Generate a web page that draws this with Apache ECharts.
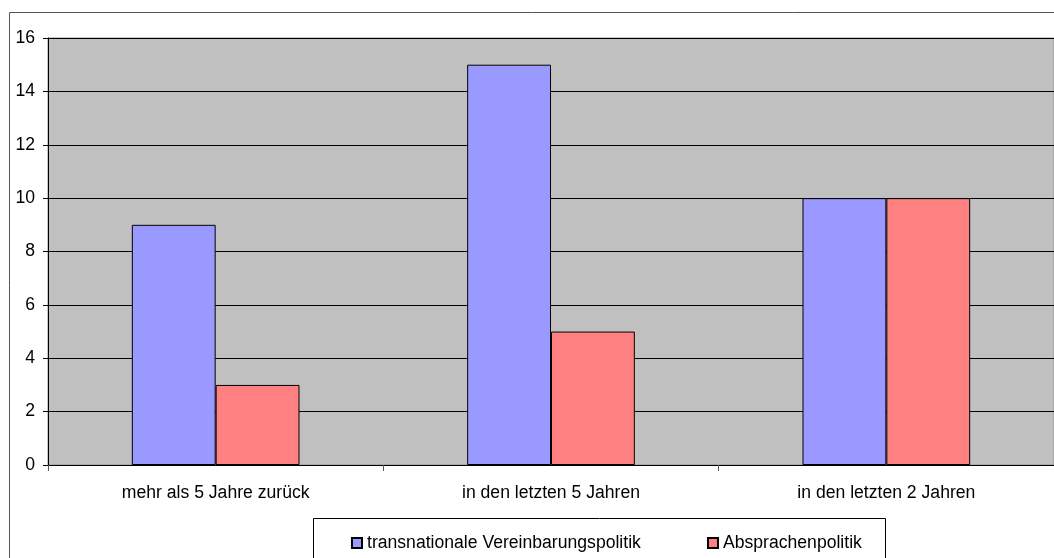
<!DOCTYPE html>
<html><head><meta charset="utf-8">
<script src="https://cdn.jsdelivr.net/npm/echarts@6/dist/echarts.min.js"></script>
<style>html,body{margin:0;padding:0;background:#fff}#c{width:1054px;height:558px}</style>
</head><body><div id="c"></div>
<script>
var categories = ['mehr als 5 Jahre zurück', 'in den letzten 5 Jahren', 'in den letzten 2 Jahren'];
var seriesNames = ['transnationale Vereinbarungspolitik', 'Absprachenpolitik'];
var transnational = [9, 15, 10];
var absprachen = [3, 5, 10];
var yTicks = [0, 2, 4, 6, 8, 10, 12, 14, 16];

var font = 'Liberation Sans, Arial, sans-serif';
var fs = 17.6;
var chart = echarts.init(document.getElementById('c'), null, {renderer: 'canvas'});
chart.setOption({
  animation: false,
  backgroundColor: '#fff',
  graphic: [
    {type: 'rect', shape: {x: 9.5, y: 12.5, width: 1060, height: 560}, style: {fill: 'none', stroke: '#555', lineWidth: 1}, z: -1},
    {type: 'rect', shape: {x: 313.5, y: 518.5, width: 572, height: 60}, style: {fill: '#fff', stroke: '#000', lineWidth: 1}, z: 0}
  ],
  legend: [
    {data: [seriesNames[0]], left: 346, top: 528, itemWidth: 10, itemHeight: 10, itemGap: 5,
     textStyle: {fontFamily: font, fontSize: fs, color: '#000', lineHeight: 20}, icon: 'rect', z: 5},
    {data: [seriesNames[1]], left: 702, top: 528, itemWidth: 10, itemHeight: 10, itemGap: 5,
     textStyle: {fontFamily: font, fontSize: fs, color: '#000', lineHeight: 20}, icon: 'rect', z: 5}
  ],
  grid: {left: 48, top: 38, width: 1013, height: 427, show: true, backgroundColor: '#c0c0c0', borderColor: '#909090', borderWidth: 1},
  xAxis: {
    type: 'category', data: categories,
    axisLine: {lineStyle: {color: '#000', width: 1}},
    axisTick: {show: true, length: 6, lineStyle: {color: '#555'}},
    axisLabel: {fontFamily: font, fontSize: fs, color: '#000', margin: 19}
  },
  yAxis: {
    type: 'value', min: 0, max: 16, interval: 2,
    axisLine: {show: true, lineStyle: {color: '#000', width: 1}},
    axisTick: {show: true, length: 5, lineStyle: {color: '#000'}},
    axisLabel: {fontFamily: font, fontSize: fs, color: '#000', margin: 13,
      formatter: function(v){ return yTicks.indexOf(v) >= 0 ? String(v) : ''; }},
    splitLine: {show: true, lineStyle: {color: '#000', width: 1}}
  },
  series: [
    {name: seriesNames[0], type: 'bar', data: transnational, barGap: '0%', barCategoryGap: '50%',
     itemStyle: {color: '#9999ff', borderColor: '#000', borderWidth: 1}},
    {name: seriesNames[1], type: 'bar', data: absprachen,
     itemStyle: {color: '#ff8080', borderColor: '#000', borderWidth: 1}}
  ]
});
</script></body></html>
